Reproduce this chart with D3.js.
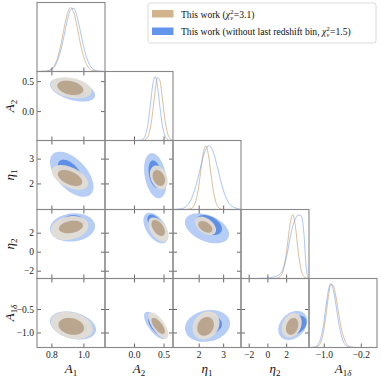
<!DOCTYPE html>
<html><head><meta charset="utf-8">
<script src="https://cdn.jsdelivr.net/npm/d3@7"></script>
<style>body{margin:0;background:#fff}svg{display:block}</style>
</head><body><svg id="c" width="381" height="380"></svg>
<script>
// ---------------- data ----------------
const paramMain = ["A","A","η","η","A"];
const paramSub = ["1","2","1","2","1δ"];
const paramRanges = [[0.71,1.135],[-0.49,0.66],[0.95,3.73],[-2.82,4.44],[-1.32,0.15]];
const xTicks = [[0.8,1.0],[0.0,0.5],[2,3],[-2,0,2],[-1.0,-0.2]];
const yTicks = [[],[0.0,0.5],[2,3],[-2,0,2],[-1.0,-0.5]];
const tickDigits = [1,1,0,0,1];

// 1D marginal posteriors (normalised to peak 1), sampled on a grid per parameter
const grid1D = [
  [0.71,0.76,0.80,0.83,0.86,0.88,0.90,0.92,0.94,0.96,0.98,1.00,1.03,1.06,1.10,1.135],
  [-0.49,0.0,0.10,0.15,0.20,0.24,0.28,0.32,0.36,0.40,0.44,0.48,0.52,0.56,0.60,0.66],
  [0.95,1.3,1.5,1.7,1.85,2.0,2.1,2.2,2.3,2.4,2.5,2.6,2.75,2.9,3.1,3.3,3.73],
  [-2.82,-1.0,0.0,0.5,1.0,1.5,1.8,2.1,2.4,2.7,3.0,3.3,3.6,3.9,4.1,4.3,4.44],
  [-1.32,-1.2,-1.1,-1.05,-1.0,-0.95,-0.9,-0.85,-0.8,-0.75,-0.7,-0.65,-0.6,-0.5,-0.4,-0.3,-0.2,0.15]
];
const tan1D = [
  [0,0.003,0.037,0.152,0.430,0.685,0.904,1.0,0.923,0.709,0.452,0.244,0.068,0.013,0.001,0],
  [0,0,0,0.002,0.018,0.072,0.212,0.470,0.788,0.987,0.933,0.662,0.355,0.143,0.043,0.004],
  [0,0,0.0005,0.014,0.093,0.36,0.65,0.91,0.997,0.848,0.561,0.289,0.066,0.009,0,0,0],
  [0,0,0,0,0.003,0.056,0.198,0.487,0.835,1.0,0.80,0.41,0.135,0.028,0.008,0.001,0],
  [0,0.002,0.037,0.11,0.27,0.52,0.80,0.982,0.976,0.84,0.63,0.41,0.235,0.051,0.006,0.0005,0,0]
];
const blue1D = [
  [0,0.003,0.029,0.12,0.345,0.57,0.804,0.967,0.99,0.864,0.643,0.407,0.152,0.040,0.004,0],
  [0,0,0.002,0.019,0.101,0.283,0.581,0.886,0.999,0.835,0.516,0.235,0.080,0.020,0.004,0],
  [0.0005,0.013,0.053,0.167,0.325,0.54,0.70,0.845,0.95,0.999,0.978,0.894,0.685,0.45,0.20,0.068,0.001],
  [0,0,0.005,0.02,0.04,0.10,0.20,0.38,0.62,0.82,0.94,0.995,0.98,0.70,0.25,0.03,0],
  [0,0.006,0.076,0.19,0.39,0.66,0.90,1.0,0.92,0.726,0.487,0.278,0.135,0.02,0.0015,0,0,0]
];

// 2D contours: [xParam, yParam, centreX, centreY, halfWidthX, halfWidthY, tilt]
const blueOuter = [
  [0,1,0.932,0.355,0.141,0.197,-0.45],
  [0,2,0.927,2.37,0.136,0.91,-0.55],
  [1,2,0.361,2.31,0.19,0.91,-0.3],
  [0,3,0.932,2.55,0.141,1.49,0.1],
  [1,3,0.37,2.49,0.21,1.61,-0.5],
  [2,3,2.34,2.46,0.9,1.58,-0.4],
  [0,4,0.935,-0.85,0.144,0.30,-0.3],
  [1,4,0.361,-0.85,0.19,0.29,-0.7],
  [2,4,2.36,-0.86,0.92,0.34,0.15],
  [3,4,2.71,-0.85,1.55,0.31,0.3]
];
const blueInner = [
  [0,1,0.93,0.355,0.085,0.12,-0.45],
  [0,2,0.918,2.40,0.078,0.56,-0.55],
  [1,2,0.356,2.38,0.11,0.55,-0.3],
  [0,3,0.93,2.95,0.078,0.9,0.1],
  [1,3,0.356,3.0,0.13,0.9,-0.5],
  [2,3,2.42,2.81,0.53,1.05,-0.4],
  [0,4,0.935,-0.86,0.085,0.18,-0.3],
  [1,4,0.355,-0.86,0.115,0.18,-0.7],
  [2,4,2.40,-0.85,0.55,0.20,0.15],
  [3,4,3.08,-0.84,1.1,0.2,0.3]
];
const tanOuter = [
  [0,1,0.924,0.388,0.128,0.175,-0.3],
  [0,2,0.916,2.24,0.114,0.50,-0.5],
  [1,2,0.42,2.24,0.15,0.48,-0.3],
  [0,3,0.913,2.49,0.118,1.26,0.2],
  [1,3,0.412,2.33,0.17,1.28,-0.5],
  [2,3,2.28,2.72,0.43,0.97,-0.45],
  [0,4,0.927,-0.85,0.131,0.29,-0.25],
  [1,4,0.412,-0.85,0.17,0.28,-0.7],
  [2,4,2.30,-0.85,0.55,0.30,0.2],
  [3,4,2.59,-0.85,1.07,0.26,0.25]
];
const tanInner = [
  [0,1,0.918,0.388,0.081,0.12,-0.3],
  [0,2,0.916,2.22,0.076,0.32,-0.5],
  [1,2,0.42,2.22,0.105,0.32,-0.3],
  [0,3,0.922,2.6,0.075,0.66,0.25],
  [1,3,0.41,2.49,0.113,0.84,-0.5],
  [2,3,2.27,2.61,0.29,0.61,-0.45],
  [0,4,0.924,-0.87,0.08,0.18,-0.2],
  [1,4,0.41,-0.86,0.113,0.17,-0.7],
  [2,4,2.28,-0.87,0.34,0.20,0.2],
  [3,4,2.64,-0.87,0.66,0.18,0.25]
];

const legendLabels = ["This work (", "This work (without last redshift bin, "];
const legendChi = ["3.1", "1.5"];

// ---------------- layout ----------------
const L = 37, T = 2.5, CW = 68, RH = 69, N = 5;
const serif = "'Liberation Serif','Times New Roman',Times,serif";
const C = {tan:"#d2b48c", blue:"#6495ed",
  blueOuter:"#b6cdf5", blueInner:"#5f8fe7", tanOuter:"#e3ddd3", tanInner:"#b9a48b"};

const svg = d3.select("#c");
const xs = paramRanges.map((r,j)=>d3.scaleLinear().domain(r).range([L+j*CW, L+(j+1)*CW]));
const ys = paramRanges.map((r,i)=>d3.scaleLinear().domain(r).range([T+(i+1)*RH, T+i*RH]));
const yd = d3.range(N).map(i=>d3.scaleLinear().domain([0,1.08]).range([T+(i+1)*RH, T+i*RH]));

const defs = svg.append("defs");
for (let i=0;i<N;i++) for (let j=0;j<=i;j++) {
  defs.append("clipPath").attr("id",`cp${i}${j}`).append("rect")
    .attr("x",L+j*CW).attr("y",T+i*RH).attr("width",CW).attr("height",RH);
}

function ellipse(c){
  const [px,py,cx,cy,rx,ry,rho]=c;
  const s=Math.sqrt(1-rho*rho);
  return d3.range(0,361,4).map(a=>{
    const t=a*Math.PI/180;
    return [xs[px](cx+rx*Math.cos(t)), ys[py](cy+ry*(rho*Math.cos(t)+s*Math.sin(t)))];
  });
}
const closed = d3.line().curve(d3.curveLinearClosed);
const layers = [[blueOuter,C.blueOuter,1],[blueInner,C.blueInner,1],[tanOuter,C.tanOuter,0.93],[tanInner,C.tanInner,0.97]];
layers.forEach(([arr,col,op])=>{
  arr.forEach(c=>{
    svg.append("path").attr("clip-path",`url(#cp${c[1]}${c[0]})`)
      .attr("d",closed(ellipse(c))).attr("fill",col).attr("fill-opacity",op);
  });
});

// 1D curves
for (let i=0;i<N;i++){
  const ln = d3.line().curve(d3.curveMonotoneX).x((d,k)=>xs[i](grid1D[i][k])).y(d=>yd[i](d));
  const g = svg.append("g").attr("clip-path",`url(#cp${i}${i})`);
  g.append("path").attr("d",ln(tan1D[i])).attr("fill","none").attr("stroke",C.tan).attr("stroke-width",1).attr("stroke-opacity",0.85);
  g.append("path").attr("d",ln(blue1D[i])).attr("fill","none").attr("stroke",C.blue).attr("stroke-width",0.9).attr("stroke-opacity",0.6);
}

// ticks
const fmt = j => d => (d<0?"−":"") + Math.abs(d).toFixed(tickDigits[j]);
function styleAxis(g){
  g.select(".domain").remove();
  g.selectAll("line").attr("stroke","#444").attr("stroke-width",0.8);
  g.selectAll("text").attr("font-family",serif).attr("font-size",9.5).attr("fill","#222");
}
for (let i=0;i<N;i++) for (let j=0;j<=i;j++){
  const x0=L+j*CW, y0=T+i*RH;
  const showX = (i===N-1);
  svg.append("g").attr("transform",`translate(0,${y0+RH})`)
    .call(d3.axisBottom(xs[j]).tickValues(xTicks[j]).tickSize(-4).tickPadding(4).tickFormat(showX?fmt(j):""))
    .call(styleAxis);
  if (i!==j){
    svg.append("g").attr("transform",`translate(0,${y0})`)
      .call(d3.axisTop(xs[j]).tickValues(xTicks[j]).tickSize(-4).tickFormat(""))
      .call(styleAxis);
    svg.append("g").attr("transform",`translate(${x0},0)`)
      .call(d3.axisLeft(ys[i]).tickValues(yTicks[i]).tickSize(-4).tickPadding(3).tickFormat(j===0?fmt(i):""))
      .call(styleAxis);
    svg.append("g").attr("transform",`translate(${x0+CW},0)`)
      .call(d3.axisRight(ys[i]).tickValues(yTicks[i]).tickSize(-4).tickFormat(""))
      .call(styleAxis);
  }
  svg.append("rect").attr("x",x0).attr("y",y0).attr("width",CW).attr("height",RH)
    .attr("fill","none").attr("stroke","#888").attr("stroke-width",1.1);
}

// axis labels
function mathLabel(sel, j){
  sel.attr("font-family",serif).attr("font-size",13).attr("fill","#111");
  sel.append("tspan").attr("font-style","italic").text(paramMain[j]);
  const sub = paramSub[j];
  sel.append("tspan").attr("font-size",9).attr("dy",3).text(sub[0]);
  if (sub.length>1) sel.append("tspan").attr("font-size",9).attr("font-style","italic").text(sub.slice(1));
}
for (let j=0;j<N;j++){
  svg.append("text").attr("x",L+j*CW+CW/2).attr("y",373).attr("text-anchor","middle").call(s=>mathLabel(s,j));
}
for (let i=1;i<N;i++){
  svg.append("text").attr("transform",`translate(14,${T+i*RH+RH/2}) rotate(-90)`).attr("text-anchor","middle").call(s=>mathLabel(s,i));
}

// legend
const lg = svg.append("g");
lg.append("rect").attr("x",148).attr("y",3).attr("width",228).attr("height",40).attr("rx",2.5)
  .attr("fill","#fff").attr("fill-opacity",0.85).attr("stroke","#d0d0d0").attr("stroke-width",0.8);
const patchCols=[C.tan,C.blue];
[0,1].forEach(k=>{
  const yb = k===0?17.5:35;
  lg.append("rect").attr("x",152).attr("y",yb-7.5).attr("width",21.5).attr("height",7.5).attr("fill",patchCols[k]);
  let x=181;
  const mk=(t,xx,yy,fs,it)=>lg.append("text").attr("x",xx).attr("y",yy).attr("font-family",serif)
     .attr("font-size",fs).attr("font-style",it?"italic":"normal").attr("fill","#111")
     .style("white-space","pre").text(t);
  const t1=mk(legendLabels[k].replace(/ /g,"\u00a0"),x,yb,9.6,false); x+=t1.node().getComputedTextLength();
  const ch=mk("χ",x,yb,9.6,true); x+=ch.node().getComputedTextLength()+0.3;
  const sp=mk("2",x,yb-3.8,6.5,false);
  const sb=mk("ν",x,yb+2.3,6.5,true);
  x+=Math.max(sp.node().getComputedTextLength(),sb.node().getComputedTextLength())+0.3;
  mk("="+legendChi[k]+")",x,yb,9.6,false);
});
</script></body></html>
